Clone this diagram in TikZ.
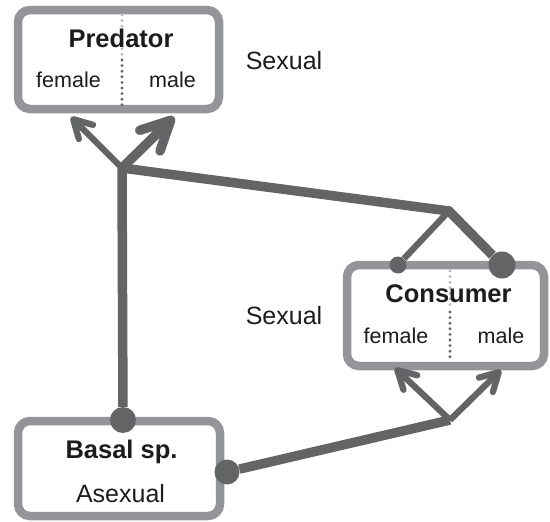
\documentclass[tikz,border=0pt]{standalone}
\usepackage{fontspec}
\setmainfont{Liberation Sans}
\usetikzlibrary{arrows.meta}
\definecolor{boxgray}{RGB}{147,149,152}
\definecolor{conngray}{RGB}{99,100,102}
\definecolor{txtblack}{RGB}{30,27,28}
\definecolor{lightdot}{RGB}{185,186,188}
\begin{document}
\begin{tikzpicture}[x=1pt,y=-1pt,
  box/.style={draw=boxgray, line width=8.5pt, rounded corners=12pt, fill=white, inner sep=0pt},
  title/.style={font=\bfseries\fontsize{25.5}{25.5}\selectfont, text=txtblack, anchor=base, inner sep=0pt},
  sexlabel/.style={font=\fontsize{21.5}{21.5}\selectfont, text=txtblack, anchor=base, inner sep=0pt},
  modelabel/.style={font=\fontsize{25}{25}\selectfont, text=txtblack, anchor=base, inner sep=0pt},
  divdark/.style={draw=conngray, line width=3.2pt, line cap=round, dash pattern=on 0pt off 5.6pt},
  divlight/.style={divdark, draw=lightdot},
  thickline/.style={draw=conngray, line width=9.5pt},
  thinline/.style={draw=conngray, line width=6.3pt},
  thinarrow/.style={thinline, -{Straight Barb[length=18pt,width=20pt,round]}},
  thickarrow/.style={thickline, -{Straight Barb[length=29pt,width=29pt,round]}},
  enddot/.style={circle, fill=conngray, inner sep=0pt, minimum size=#1}
]
\useasboundingbox (0,0) rectangle (550,522);
% boxes
\node[box, minimum width=201pt, minimum height=99pt] (pred) at (118.5,59.5) {};
\node[box, minimum width=197pt, minimum height=101pt] (cons) at (445.5,315.5) {};
\node[box, minimum width=202pt, minimum height=95pt] (basal) at (119,468.5) {};
% dividers
\draw[divlight] (122,15) -- (122,55);
\draw[divdark] (122,60) -- (122,105);
\draw[divlight] (450,271) -- (450,306);
\draw[divdark] (450,312) -- (450,362);
% texts
\node[title] (tp) at (121,47) {Predator};
\node[sexlabel] (pfem) at (68.5,88) {female};
\node[sexlabel] (pmal) at (172.5,88) {male};
\node[modelabel] (sx1) at (284,69.3) {Sexual};
\node[title] (tc) at (448.5,302) {Consumer};
\node[sexlabel] (cfem) at (396,343) {female};
\node[sexlabel] (cmal) at (501,343) {male};
\node[modelabel] (sx2) at (284,324.3) {Sexual};
\node[title] (tb) at (121.5,458) {Basal sp.};
\node[modelabel] (ab) at (120.5,502) {Asexual};
% junctions and ends
\coordinate (jp) at (122,168);
\coordinate (jc) at (449,211);
\coordinate (jb) at (450,420);
\coordinate (pf) at (71,117);
\coordinate (pm) at (174,117);
\coordinate (cf) at (395,368);
\coordinate (cm) at (501,370);
\node[enddot=26pt] (bt) at (123,420) {};
\node[enddot=25pt] (br) at (227,472) {};
\node[enddot=17pt] (cl) at (398,265) {};
\node[enddot=27pt] (cr) at (502,265) {};
% connectors
\draw[thickline] (bt) -- (jp);
\draw[thinarrow] (jp) -- (pf);
\draw[thickarrow] (jp) -- (pm);
\draw[thickline] (jp) -- (jc) -- (cr);
\draw[thinline] (jc) -- (cl);
\draw[thickline] (br) -- (jb);
\draw[thinarrow] (jb) -- (cf);
\draw[thinarrow] (jb) -- (cm);
\end{tikzpicture}
\end{document}
